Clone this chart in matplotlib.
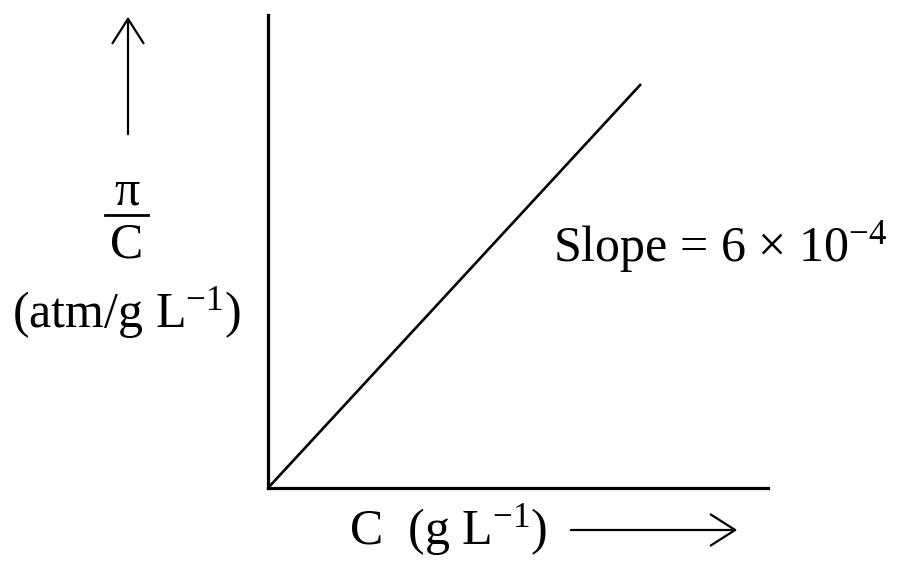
import matplotlib
matplotlib.use("Agg")
import matplotlib.pyplot as plt

plt.rcParams['font.family'] = ['Liberation Serif', 'DejaVu Serif']
plt.rcParams['mathtext.fontset'] = 'custom'
plt.rcParams['mathtext.rm'] = 'Liberation Serif'
plt.rcParams['mathtext.it'] = 'Liberation Serif:italic'

# Data (arbitrary units)
conc = [0, 7.46]          # C (g L^-1)
pi_over_c = [0, 8.54]     # pi / C
slope_label = r"Slope = 6 $\times$ 10$^{-4}$"
x_label = r"C  (g L$^{-1}$)"
y_unit = r"(atm/g L$^{-1}$)"

fig = plt.figure(figsize=(9, 5.69), dpi=100)
ax = fig.add_axes([268 / 900, 81 / 569, 500 / 900, 473 / 569])
ax.plot(conc, pi_over_c, color='black', lw=1.9, solid_capstyle='butt')
ax.set_xlim(0, 10)
ax.set_ylim(0, 10)
for s in ['top', 'right']:
    ax.spines[s].set_visible(False)
for s in ['left', 'bottom']:
    ax.spines[s].set_linewidth(2.3)
ax.set_xticks([])
ax.set_yticks([])

fs = 36
ax.text(553 / 900, 1 - 247 / 569, slope_label, transform=fig.transFigure,
        fontsize=fs, ha='left', va='center')

# y label: pi over C with a fraction bar
fig.text(127 / 900, 1 - 192 / 569, "π", fontsize=fs, ha='center', va='center')
fig.add_artist(plt.Line2D([105 / 900, 148 / 900], [1 - 215 / 569] * 2,
                          color='black', lw=2))
fig.text(127 / 900, 1 - 245 / 569, "C", fontsize=fs, ha='center', va='center')
fig.text(126 / 900, 1 - 313 / 569, y_unit, fontsize=fs, ha='center', va='center')

# x label
fig.text(448 / 900, 1 - 530 / 569, x_label, fontsize=fs, ha='center', va='center')

# direction arrows
fig.add_artist(matplotlib.patches.FancyArrowPatch(
    (128 / 900, 1 - 137 / 569), (128 / 900, 1 - 14 / 569),
    transform=fig.transFigure, arrowstyle='->,head_length=11,head_width=7',
    color='black', lw=1.6, mutation_scale=1.6))
fig.add_artist(matplotlib.patches.FancyArrowPatch(
    (568 / 900, 1 - 530 / 569), (740 / 900, 1 - 530 / 569),
    transform=fig.transFigure, arrowstyle='->,head_length=11,head_width=7',
    color='black', lw=1.6, mutation_scale=1.6))

fig.savefig("out.png", dpi=100)
